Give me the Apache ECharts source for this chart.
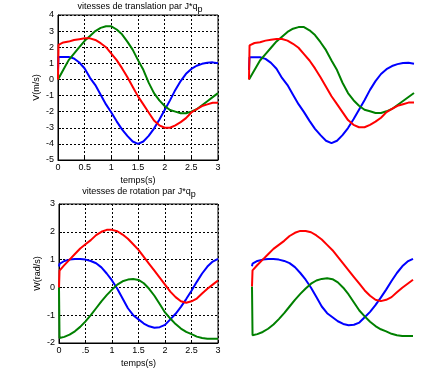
<!DOCTYPE html>
<html>
<head>
<meta charset="utf-8">
<script src="https://cdn.jsdelivr.net/npm/echarts@6/dist/echarts.min.js"></script>
<style>html,body{margin:0;padding:0;background:#fff;}#c{width:446px;height:382px;}</style>
</head>
<body>
<div id="c"></div>
<script>
// time samples (s)
const time = [0, 0.01, 0.1, 0.2, 0.3, 0.4, 0.5, 0.6, 0.7, 0.8, 0.9, 1.0, 1.1, 1.2, 1.3, 1.4, 1.5,
  1.6, 1.7, 1.8, 1.9, 2.0, 2.1, 2.2, 2.3, 2.4, 2.5, 2.6, 2.7, 2.8, 2.9, 3.0];

// translation velocities V (m/s)
const transBlue = [0.6, 1.4, 1.4, 1.4, 1.3, 1.05, 0.68, 0.1, -0.35, -0.95, -1.55, -2.05, -2.6, -3.1, -3.5, -3.85, -4.0,
  -3.85, -3.5, -3.05, -2.5, -1.9, -1.3, -0.65, -0.1, 0.35, 0.65, 0.85, 0.97, 1.04, 1.06, 1.0];
const transGreen = [0, 0.05, 0.6, 1.2, 1.6, 2.0, 2.4, 2.7, 3.0, 3.2, 3.3, 3.3, 3.1, 2.8, 2.35, 1.85, 1.2,
  0.6, -0.2, -0.85, -1.3, -1.65, -1.9, -2.0, -2.1, -2.1, -2.0, -1.85, -1.6, -1.35, -1.1, -0.85];
const transRed = [0, 2.15, 2.3, 2.35, 2.45, 2.5, 2.55, 2.55, 2.45, 2.25, 2.0, 1.6, 1.2, 0.7, 0.15, -0.45, -1.05,
  -1.55, -2.05, -2.55, -2.85, -3.0, -3.0, -2.85, -2.65, -2.4, -2.05, -1.85, -1.65, -1.55, -1.45, -1.45];

// rotation velocities W (rad/s)
const rotBlue = [0.75, 0.85, 0.95, 1.0, 1.02, 1.02, 1.0, 0.95, 0.87, 0.72, 0.5, 0.25, -0.05, -0.4, -0.75, -1.0, -1.15,
  -1.3, -1.4, -1.45, -1.43, -1.35, -1.15, -0.95, -0.7, -0.42, -0.12, 0.2, 0.5, 0.75, 0.93, 1.03];
const rotGreen = [0, -1.82, -1.78, -1.7, -1.58, -1.42, -1.22, -1.0, -0.75, -0.5, -0.28, -0.08, 0.1, 0.22, 0.28, 0.3, 0.27,
  0.15, -0.05, -0.3, -0.6, -0.9, -1.12, -1.32, -1.48, -1.6, -1.68, -1.77, -1.82, -1.85, -1.85, -1.85];
const rotRed = [0, 0.6, 0.8, 1.0, 1.2, 1.4, 1.55, 1.7, 1.88, 2.0, 2.07, 2.07, 2.02, 1.9, 1.75, 1.55, 1.35,
  1.1, 0.85, 0.6, 0.35, 0.1, -0.15, -0.35, -0.5, -0.55, -0.5, -0.4, -0.22, -0.05, 0.1, 0.25];

const topXTicks = ['0', '0.5', '1', '1.5', '2', '2.5', '3'];
const botXTicks = ['0', '.5', '1', '1.5', '2', '2.5', '3'];

const titleTop = 'vitesses de translation par J*q';
const titleBot = 'vitesses de rotation par J*q';
const xName = 'temps(s)';
const yNameTop = 'V(m/s)';
const yNameBot = 'W(rad/s)';

const FONT = 'Liberation Sans';
const pair = (ys) => time.map((t, i) => [t, ys[i]]);

const grids = [
  {left: 58, top: 15, width: 160, height: 145, show: true, borderColor: '#000', borderWidth: 1},
  {left: 59, top: 204, width: 159, height: 139, show: true, borderColor: '#000', borderWidth: 1},
  {left: 249, top: 16, width: 165, height: 143},
  {left: 252, top: 206, width: 161, height: 134}
];

function xAxisVis(gi, ticks) {
  return {
    type: 'value', gridIndex: gi, min: 0, max: 3, interval: 0.5,
    name: xName, nameLocation: 'middle', nameGap: 16,
    nameTextStyle: {color: '#000', fontFamily: FONT, fontSize: 9},
    axisLine: {show: true, onZero: false, lineStyle: {color: '#000', width: 1}},
    axisTick: {show: true, inside: true, length: 3, lineStyle: {color: '#000'}},
    axisLabel: {color: '#000', fontFamily: FONT, fontSize: 9, margin: 3,
      formatter: (v) => ticks[Math.round(v / 0.5)]},
    splitLine: {show: true, lineStyle: {color: '#000', type: [2, 2], width: 1}}
  };
}
function yAxisVis(gi, min, max, name, gap) {
  return {
    type: 'value', gridIndex: gi, min: min, max: max, interval: 1,
    name: name, nameLocation: 'middle', nameGap: gap, nameRotate: 90,
    nameTextStyle: {color: '#000', fontFamily: FONT, fontSize: 9},
    axisLine: {show: true, onZero: false, lineStyle: {color: '#000', width: 1}},
    axisTick: {show: true, inside: true, length: 3, lineStyle: {color: '#000'}},
    axisLabel: {color: '#000', fontFamily: FONT, fontSize: 9, margin: 4},
    splitLine: {show: true, lineStyle: {color: '#000', type: [2, 2], width: 1}}
  };
}
function hiddenX(gi) {
  return {type: 'value', gridIndex: gi, min: 0, max: 3, show: false};
}
function hiddenY(gi, min, max) {
  return {type: 'value', gridIndex: gi, min: min, max: max, show: false};
}

function line(gi, ys, color) {
  return {
    type: 'line', xAxisIndex: gi, yAxisIndex: gi, data: pair(ys),
    showSymbol: false, symbol: 'none', animation: false, clip: false,
    lineStyle: {color: color, width: 2}
  };
}

const BLUE = '#0000ff', GREEN = '#008000', RED = '#ff0000';

const titleRich = {
  a: {fontFamily: FONT, fontSize: 9, fontWeight: 'normal', color: '#000', lineHeight: 10, verticalAlign: 'top'},
  s: {fontFamily: FONT, fontSize: 9, fontWeight: 'normal', color: '#000', lineHeight: 10, padding: [3, 0, 0, 0], verticalAlign: 'top'}
};

const option = {
  animation: false,
  backgroundColor: '#fff',
  title: [
    {text: '{a|' + titleTop + '}{s|p}', left: 140, textAlign: 'center', top: 2, padding: 0,
      textStyle: {fontWeight: 'normal', rich: titleRich}},
    {text: '{a|' + titleBot + '}{s|p}', left: 139, textAlign: 'center', top: 187, padding: 0,
      textStyle: {fontWeight: 'normal', rich: titleRich}}
  ],
  grid: grids,
  xAxis: [xAxisVis(0, topXTicks), xAxisVis(1, botXTicks), hiddenX(2), hiddenX(3)],
  yAxis: [yAxisVis(0, -5, 4, yNameTop, 17), yAxisVis(1, -2, 3, yNameBot, 17), hiddenY(2, -5, 4), hiddenY(3, -2, 3)],
  series: [
    line(0, transBlue, BLUE), line(0, transGreen, GREEN), line(0, transRed, RED),
    line(1, rotBlue, BLUE), line(1, rotGreen, GREEN), line(1, rotRed, RED),
    line(2, transBlue, BLUE), line(2, transGreen, GREEN), line(2, transRed, RED),
    line(3, rotBlue, BLUE), line(3, rotGreen, GREEN), line(3, rotRed, RED)
  ]
};

const chart = echarts.init(document.getElementById('c'), null, {renderer: 'canvas'});
chart.setOption(option);
</script>
</body>
</html>
